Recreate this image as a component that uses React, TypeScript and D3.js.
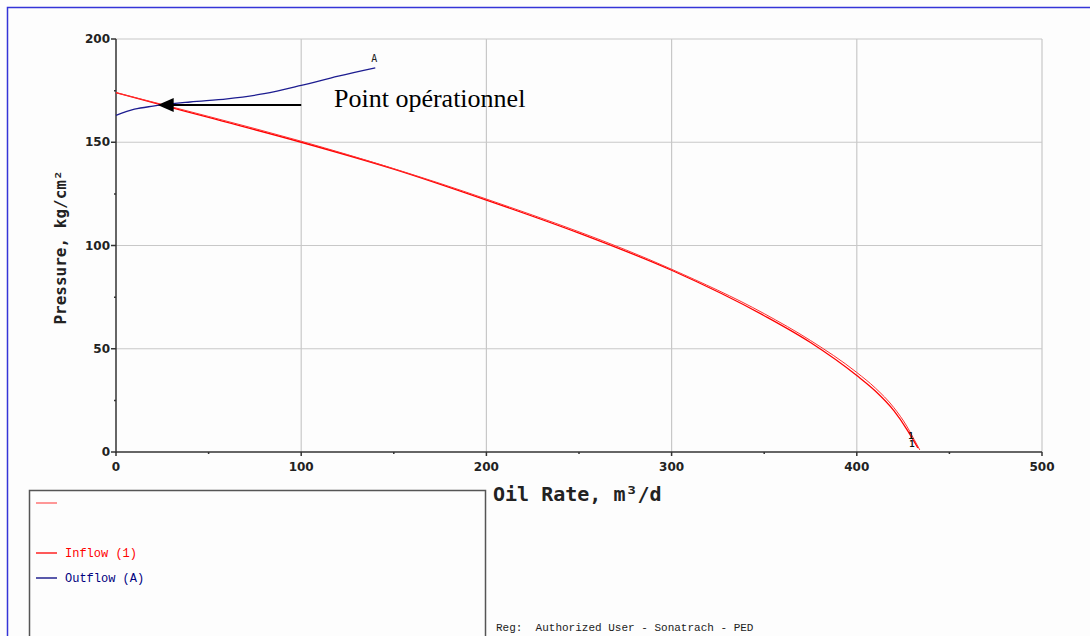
import React from 'react';
import * as d3 from 'd3';

// values
const xTicks = [0, 100, 200, 300, 400, 500];
const yTicks = [0, 50, 100, 150, 200];
const xMinor = [50, 150, 250, 350, 450];
const yMinor = [25, 75, 125, 175];

const inflowA = [
    [0, 174], [25, 168], [50, 162], [100, 150], [150, 137], [200, 122],
    [250, 106], [300, 88], [350, 66], [375, 53], [400, 37], [410, 29.5],
    [420, 20], [427, 11], [431, 5], [433, 2]
];
const inflowB = [
    [0, 174], [50, 162.5], [100, 150.5], [200, 122.5], [300, 88.5],
    [350, 67], [375, 54], [400, 38.5], [410, 31], [420, 21.5], [427, 12.5], [431, 6], [434, 1]
];
const outflow = [
    [0, 163], [10, 166], [20, 167.5], [40, 169.5], [60, 171], [80, 173.5],
    [100, 177.5], [120, 182], [140, 186]
];
const operatingPoint = [22.5, 168];
const arrowStart = [100, 168];
const legendItems = [
    { label: '', color: '#ff6060' },
    { label: null, color: null },
    { label: 'Inflow (1)', color: '#ff0000' },
    { label: 'Outflow (A)', color: '#00007f' }
];

export default function App() {
    const margin = { top: 39, right: 48, bottom: 184, left: 116 };
    const W = 1090, H = 636;

    const x = d3.scaleLinear().domain([0, 500]).range([margin.left, W - margin.right]);
    const y = d3.scaleLinear().domain([0, 200]).range([H - margin.bottom, margin.top]);

    const line = d3.line<number[]>().x(d => x(d[0])).y(d => y(d[1])).curve(d3.curveMonotoneX);

    const mono = '"DejaVu Sans Mono", monospace';
    const x0 = x(0), y0 = y(0);

    const tip = [x(operatingPoint[0]), y(operatingPoint[1])];

    return (
        <svg width={W} height={H} style={{ position: 'absolute', left: 0, top: 0, background: '#fdfdfd' }}>
            {/* outer frame */}
            <path d={`M7.5,${H} V7.5 H${W}`} fill="none" stroke="#3535d8" strokeWidth={1.5} />

            {/* grid */}
            {xTicks.slice(1).map(t => (
                <line key={'gx' + t} x1={x(t)} x2={x(t)} y1={y(200)} y2={y0} stroke="#c8c8c8" strokeWidth={1.2} />
            ))}
            {yTicks.slice(1).map(t => (
                <line key={'gy' + t} x1={x0} x2={x(500)} y1={y(t)} y2={y(t)} stroke="#c8c8c8" strokeWidth={1.2} />
            ))}

            {/* axes */}
            <line x1={x0} x2={x0} y1={y(200)} y2={y0 + 1} stroke="#333" strokeWidth={1.5} />
            <line x1={x0} x2={x(500)} y1={y0} y2={y0} stroke="#333" strokeWidth={1.5} />
            {yTicks.map(t => (
                <g key={'yt' + t}>
                    <line x1={x0 - 5} x2={x0} y1={y(t)} y2={y(t)} stroke="#333" strokeWidth={1.5} />
                    <text x={x0 - 6} y={y(t) + 4} textAnchor="end" fontFamily="'DejaVu Sans', sans-serif"
                          fontWeight="bold" fontSize={12} fill="#222">{t}</text>
                </g>
            ))}
            {yMinor.map(t => (
                <line key={'ym' + t} x1={x0 - 2} x2={x0} y1={y(t)} y2={y(t)} stroke="#333" strokeWidth={1.5} />
            ))}
            {xTicks.map(t => (
                <g key={'xt' + t}>
                    <line x1={x(t)} x2={x(t)} y1={y0} y2={y0 + 4} stroke="#333" strokeWidth={1.5} />
                    <text x={x(t)} y={y0 + 19} textAnchor="middle" fontFamily="'DejaVu Sans', sans-serif"
                          fontWeight="bold" fontSize={12} fill="#222">{t}</text>
                </g>
            ))}
            {xMinor.map(t => (
                <line key={'xm' + t} x1={x(t)} x2={x(t)} y1={y0} y2={y0 + 2} stroke="#333" strokeWidth={1.5} />
            ))}

            {/* axis titles */}
            <text transform={`translate(66,${(y(200) + y0) / 2 + 2}) rotate(-90)`} textAnchor="middle"
                  fontFamily={mono} fontWeight="bold" fontSize={16} fill="#222">Pressure, kg/cm²</text>
            <text x={493} y={501} fontFamily={mono} fontWeight="bold" fontSize={20} fill="#222">Oil Rate, m³/d</text>

            {/* curves */}
            <path d={line(inflowA) || ''} fill="none" stroke="#ff0000" strokeWidth={1.3} />
            <path d={line(inflowB) || ''} fill="none" stroke="#ff3030" strokeWidth={1} />
            <path d={line(outflow) || ''} fill="none" stroke="#1c1c90" strokeWidth={1.3} />

            {/* curve labels */}
            <text x={x(140) - 4} y={y(186) - 6} fontFamily={mono} fontSize={10} fill="#222">A</text>
            <text x={x(430) - 4} y={y(4) - 5} fontFamily={mono} fontWeight="bold" fontSize={9} fill="#111">1</text>
            <text x={x(430) - 3} y={y(4) + 3} fontFamily={mono} fontWeight="bold" fontSize={9} fill="#111">1</text>

            {/* operating point annotation */}
            <line x1={x(arrowStart[0])} x2={tip[0] + 14} y1={y(arrowStart[1])} y2={tip[1]} stroke="#000" strokeWidth={2} />
            <path d={`M${tip[0]},${tip[1]} L${tip[0] + 16},${tip[1] - 7} L${tip[0] + 16},${tip[1] + 7} Z`} fill="#000" />
            <text x={334} y={107} fontFamily="'Liberation Serif', 'Times New Roman', serif" fontSize={26} fill="#000">Point opérationnel</text>

            {/* legend */}
            <rect x={29.5} y={490.5} width={456} height={160} fill="none" stroke="#555" strokeWidth={1.5} />
            {legendItems.map((d, i) => d.color ? (
                <g key={'lg' + i}>
                    <line x1={36} x2={57} y1={503 + i * 25} y2={503 + i * 25} stroke={d.color} strokeWidth={1.3} />
                    <text x={65} y={507 + i * 25} fontFamily="'Liberation Mono', monospace" fontSize={12} fill={d.color}>{d.label}</text>
                </g>
            ) : null)}

            <text x={496} y={631} fontFamily="'Liberation Mono', monospace" fontSize={11} fill="#222" xmlSpace="preserve">Reg:  Authorized User - Sonatrach - PED</text>
        </svg>
    );
}
